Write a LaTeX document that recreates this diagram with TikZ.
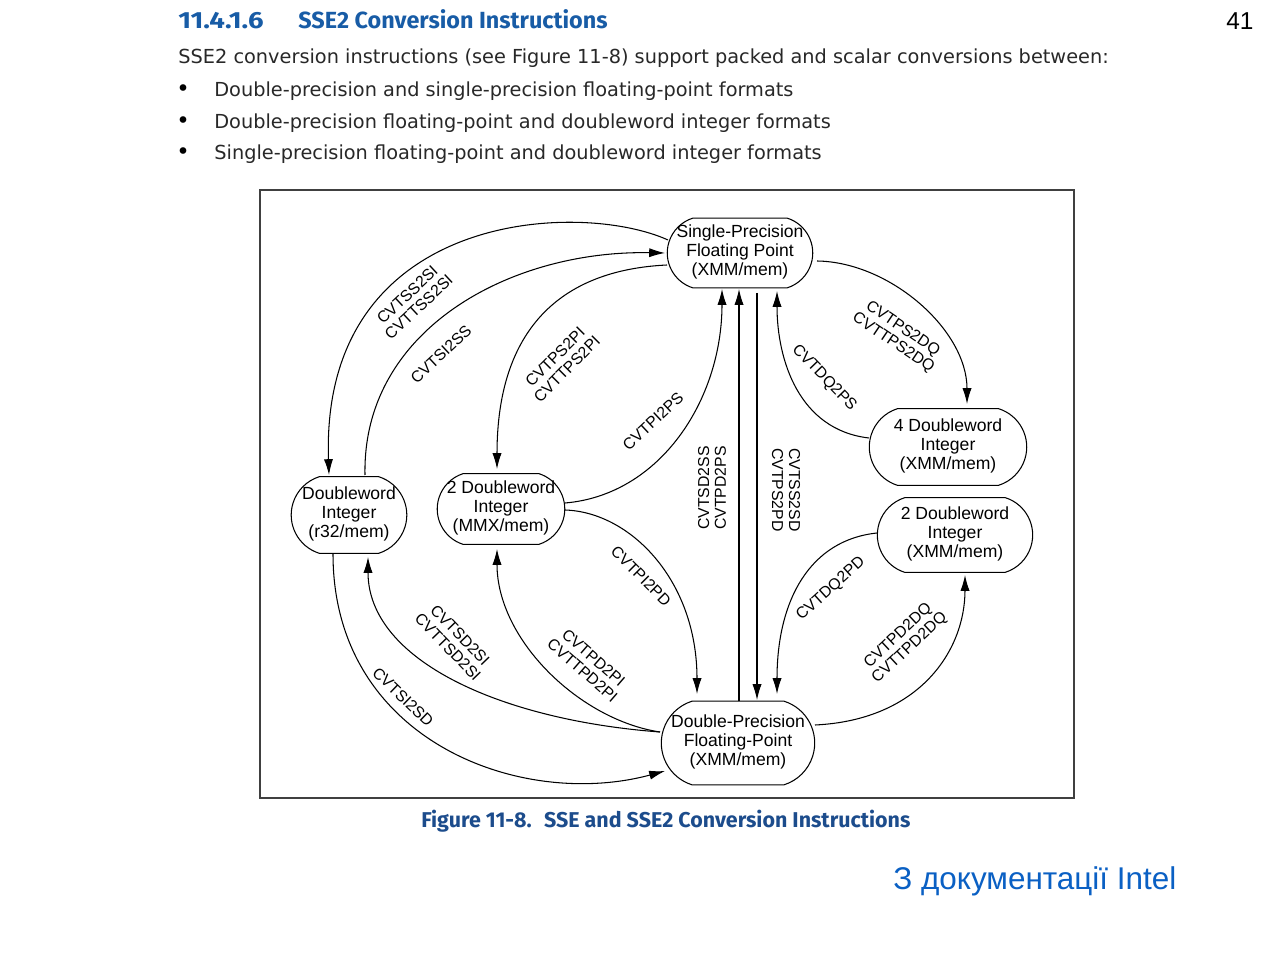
\documentclass[tikz,border=0pt]{standalone}
\usepackage{fontspec}
\setmainfont{Liberation Sans}
\newfontfamily\headfont{Fira Sans}
\newfontfamily\bodyfont{DejaVu Sans}
\usetikzlibrary{arrows.meta,shapes.misc,calc}
\definecolor{headblue}{RGB}{24,92,166}
\definecolor{capblue}{RGB}{28,76,140}
\definecolor{noteblue}{RGB}{10,96,196}
\definecolor{bodygray}{RGB}{40,40,40}
% three-line text of a format box, centred, taking no width of its own
\newcommand{\fmttext}[1]{\makebox[0pt]{\begin{tabular}{@{}c@{}}#1\end{tabular}}}

\begin{document}
\begin{tikzpicture}[x=0.02cm,y=-0.02cm,
  fmt/.style={draw, line width=0.6pt, rounded rectangle, rounded rectangle arc length=145,
              inner sep=0pt, font=\fontsize{10}{10.8}\selectfont},
  conv/.style={line width=0.6pt, -{Latex[length=9pt,width=5.2pt]}},
  lbl/.style={font=\fontsize{9}{9.6}\selectfont, align=center, inner sep=0pt},
  txt/.style={anchor=base west, inner sep=0pt},
  bodytxt/.style={txt, font=\bodyfont\fontsize{11}{13}\selectfont, text=bodygray},
  ]
\fill[white] (0,0) rectangle (1280,955);
\useasboundingbox (0,0) rectangle (1280,955);

% --- text above the figure ---
\node[txt, font=\headfont\bfseries\fontsize{13.3}{16}\selectfont, text=headblue] (hdnum) at (178,28.3)
  {\scalebox{1.18}[1]{11.4.1.6}};
\node[txt, font=\headfont\bfseries\fontsize{13.3}{16}\selectfont, text=headblue] (hd) at (298,28.3)
  {SSE2 Conversion Instructions};
\node[bodytxt] (intro) at (178,64)
  {SSE2 conversion instructions (see Figure 11-8) support packed and scalar conversions between:};
\foreach \yy/\name/\line in {96.7/b1/{Double-precision and single-precision floating-point formats},
                        128.3/b2/{Double-precision floating-point and doubleword integer formats},
                        160/b3/{Single-precision floating-point and doubleword integer formats}}{
  \node[anchor=base, inner sep=0pt, font=\bodyfont\fontsize{13}{14}\selectfont, text=black] (\name d) at (183,\yy) {•};
  \node[bodytxt] (\name) at (214,\yy) {\line};
}
\node[txt, font=\fontsize{13.9}{16}\selectfont] (pg) at (1226,29.3) {41};

% --- figure frame ---
\draw[line width=0.9pt, black!75] (260,190) rectangle (1074,798);

% --- data formats ---
\node[fmt, minimum width=82.8pt, minimum height=39.7pt] (sp) at (740,253)
  {\fmttext{Single-Precision\\Floating Point\\(XMM/mem)}};
\node[fmt, minimum width=65.8pt, minimum height=43.6pt] (dw) at (349,515)
  {\fmttext{Doubleword\\Integer\\(r32/mem)}};
\node[fmt, minimum width=72.6pt, minimum height=40.3pt] (mmx) at (501,509)
  {\fmttext{2 Doubleword\\Integer\\(MMX/mem)}};
\node[fmt, minimum width=89.6pt, minimum height=43.6pt] (dq4) at (948,447)
  {\fmttext{4 Doubleword\\Integer\\(XMM/mem)}};
\node[fmt, minimum width=88.4pt, minimum height=42.5pt] (dq2) at (955,535)
  {\fmttext{2 Doubleword\\Integer\\(XMM/mem)}};
\node[fmt, minimum width=87.3pt, minimum height=47.6pt] (dp) at (738,743)
  {\fmttext{Double-Precision\\Floating-Point\\(XMM/mem)}};

% --- conversions ---
\draw[conv] ($(sp)+(-72,-13)$) .. controls +(-88,-40) and +(-9,-265) .. ($(dw)+(-20,-40)$);
\draw[conv] ($(dw)+(16,-40)$) .. controls +(-3,-145) and +(-155,-3) .. ($(sp)+(-75,0)$);
\draw[conv] ($(sp)+(-73,12)$) .. controls +(-107,5) and +(0,-139) .. ($(mmx)+(-4,-40)$);
\draw[conv] ($(mmx)+(64,-6)$) .. controls +(95,-8) and +(0,111) .. ($(sp)+(-18,36)$);
\draw[conv] ($(dp)+(1,-42)$) -- ($(sp)+(-1,36)$);
\draw[conv] ($(sp)+(17,40)$) -- ($(dp)+(19,-43)$);
\draw[conv] ($(sp)+(77,8)$) .. controls +(73,1) and +(0,-74) .. ($(dq4)+(19,-43)$);
\draw[conv] ($(dq4)+(-79,-9)$) .. controls +(-70,-8) and +(0,69) .. ($(sp)+(37,38)$);
\draw[conv] ($(dq2)+(-78,-2)$) .. controls +(-67,7) and +(0,-94) .. ($(dp)+(39,-49)$);
\draw[conv] ($(dp)+(77,-18)$) .. controls +(105,-5) and +(0,75) .. ($(dq2)+(10,40)$);
\draw[conv] ($(mmx)+(64,1)$) .. controls +(65,2) and +(0,-114) .. ($(dp)+(-41,-49)$);
\draw[conv] ($(dw)+(-16,39)$) .. controls +(0,186) and +(-145,39) .. ($(dp)+(-73,28)$);
\draw[conv] ($(dp)+(-78,-11)$) .. controls +(-160,-12) and +(0,103) .. ($(dw)+(19,42)$);
\draw[conv] ($(dp)+(-78,-11)$) .. controls +(-80,-12) and +(0,91) .. ($(mmx)+(-4,40)$);

% --- instruction names ---
\node[lbl, rotate=43] (l1) at (413,301) {CVTSS2SI\\CVTTSS2SI};
\node[lbl, rotate=43] (l2) at (441,354) {CVTSI2SS};
\node[lbl, rotate=45] (l3) at (561,363) {CVTPS2PI\\CVTTPS2PI};
\node[lbl, rotate=43] (l4) at (653,421) {CVTPI2PS};
\node[lbl, rotate=90] (l5) at (712,488) {CVTSD2SS\\CVTPD2PS};
\node[lbl, rotate=-90] (l6) at (786,490) {CVTSS2SD\\CVTPS2PD};
\node[lbl, rotate=-34] (l7) at (898,336) {CVTPS2DQ\\CVTTPS2DQ};
\node[lbl, rotate=-46] (l8) at (824,378) {CVTDQ2PS};
\node[lbl, rotate=42] (l9) at (831,589) {CVTDQ2PD};
\node[lbl, rotate=43] (l10) at (904,642) {CVTPD2DQ\\CVTTPD2DQ};
\node[lbl, rotate=-45] (l11) at (641,576) {CVTPI2PD};
\node[lbl, rotate=-46] (l12) at (454,641) {CVTSD2SI\\CVTTSD2SI};
\node[lbl, rotate=-41] (l13) at (588,664) {CVTPD2PI\\CVTTPD2PI};
\node[lbl, rotate=-44] (l14) at (403,697) {CVTSI2SD};

% --- caption and source note ---
\node[txt, font=\headfont\bfseries\fontsize{12.2}{14}\selectfont, text=capblue] (cap) at (421,827)
  {Figure 11-8.\hspace{7pt}SSE and SSE2 Conversion Instructions};
\node[txt, font=\fontsize{17.9}{20}\selectfont, text=noteblue] (src) at (893,889) {З документації Intel};
\end{tikzpicture}
\end{document}
